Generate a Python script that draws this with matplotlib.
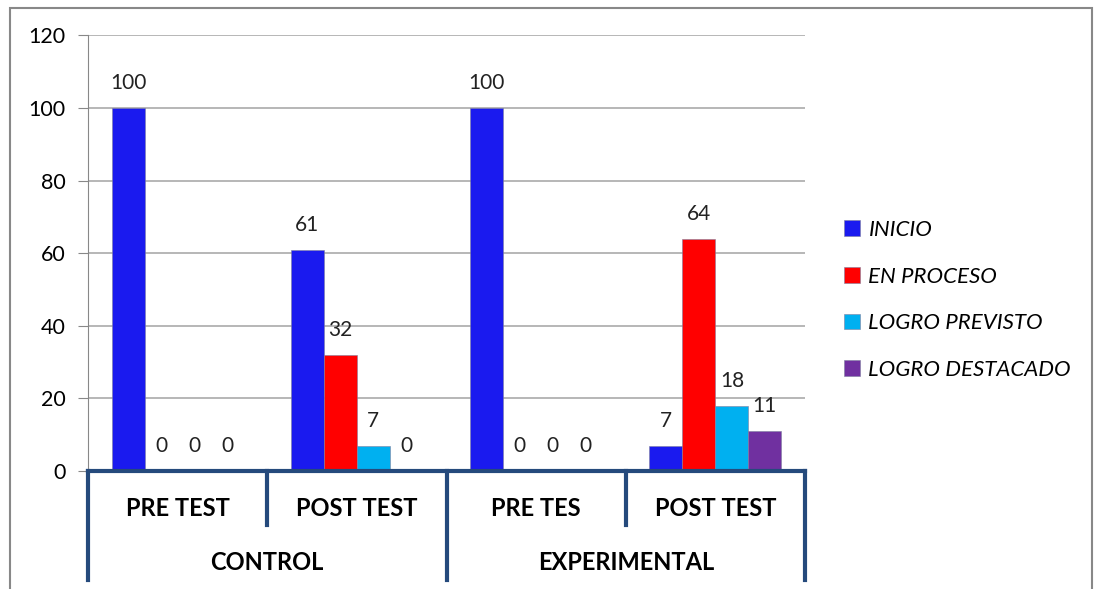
import numpy as np
import matplotlib
matplotlib.use('Agg')
from matplotlib import pyplot as plt
from matplotlib.patches import Rectangle
import matplotlib.transforms as mtransforms

plt.rcParams['font.family'] = ['Lato', 'DejaVu Sans']

# data
subgroups = ['PRE TEST', 'POST TEST', 'PRE TES', 'POST TEST']
groups = ['CONTROL', 'EXPERIMENTAL']
series = ['INICIO', 'EN PROCESO', 'LOGRO PREVISTO', 'LOGRO DESTACADO']
inicio = [100, 61, 100, 7]
en_proceso = [0, 32, 0, 64]
logro_previsto = [0, 7, 0, 18]
logro_destacado = [0, 0, 0, 11]
colors = ['#1a1aef', '#ff0000', '#00b0f0', '#7030a0']

values = [inicio, en_proceso, logro_previsto, logro_destacado]

fig = plt.figure(figsize=(11, 5.89), dpi=100)
ax = fig.add_axes([88/1100, 118/589, (805-88)/1100, (471-35.4)/589])

x = np.arange(len(subgroups))
w = 0.184
for i, (name, vals) in enumerate(zip(series, values)):
    pos = x + (i - 1.5) * w
    ax.bar(pos, vals, w, color=colors[i], label=name, edgecolor='#7f7f9f',
           linewidth=0.4, zorder=3)
    for j, v in enumerate(vals):
        ax.annotate(str(v), (pos[j], v), xytext=(0, 18), textcoords='offset points',
                    ha='center', va='center', fontsize=15, color='#222222')

ax.set_xlim(-0.5, 3.5)
ax.set_ylim(0, 120)
ax.set_yticks(np.arange(0, 121, 20))
ax.tick_params(axis='y', length=7, pad=9, labelsize=15.5, color='#888888')
ax.set_xticks([])
ax.grid(axis='y', color='#aaaaaa', linewidth=1.2, zorder=0)
for s in ['top', 'right', 'bottom']:
    ax.spines[s].set_visible(False)
ax.spines['left'].set_color('#888888')

# multi-level category axis
navy = '#254a7c'
trans = mtransforms.blended_transform_factory(ax.transData, ax.transAxes)
ax.plot([-0.5, 3.5], [0, 0], color=navy, lw=3, transform=trans, clip_on=False, zorder=5)
for xd in [-0.5, 1.5, 3.5]:
    ax.plot([xd, xd], [0, -0.25], color=navy, lw=3, transform=trans, clip_on=False)
for xd in [0.5, 2.5]:
    ax.plot([xd, xd], [0, -0.125], color=navy, lw=3, transform=trans, clip_on=False)
for j, lab in enumerate(subgroups):
    ax.text(x[j], -0.085, lab, transform=trans, ha='center', va='center',
            fontsize=17, fontweight='bold')
for k, lab in enumerate(groups):
    ax.text(0.5 + 2 * k, -0.21, lab, transform=trans, ha='center', va='center',
            fontsize=17, fontweight='bold')

leg = fig.legend(loc='center left', bbox_to_anchor=(824/1100, 289/589), frameon=False,
                 prop={'style': 'italic', 'size': 16}, handlelength=0.7, handleheight=0.7,
                 handletextpad=0.4, labelspacing=1.2)

# outer frame
fig.patches.append(Rectangle((10/1100, -0.05), (1092-10)/1100, (589-8)/589 + 0.05,
                             transform=fig.transFigure, fill=False,
                             edgecolor='#888888', linewidth=1.5))

fig.savefig('out.png', dpi=100)
